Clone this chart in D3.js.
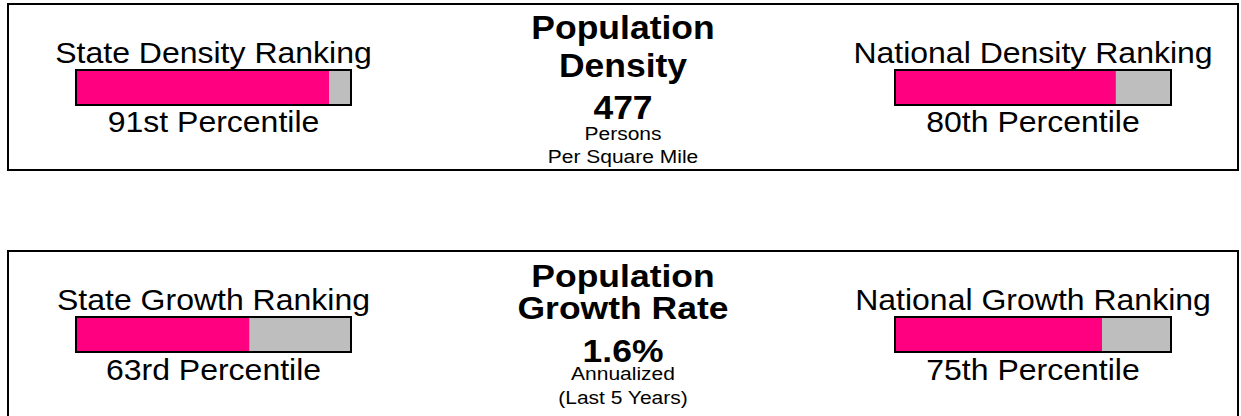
<!DOCTYPE html>
<html>
<head>
<meta charset="utf-8">
<script src="https://cdn.jsdelivr.net/npm/d3@7"></script>
<style>
  body { margin: 0; background: #fff; }
  text { font-family: "Liberation Sans", Arial, Helvetica, sans-serif; fill: #000; }
</style>
</head>
<body>
<div id="chart"></div>
<script>
// data
const titles = [['Population', 'Density'], ['Population', 'Growth Rate']];
const values = ['477', '1.6%'];
const subtitles = [['Persons', 'Per Square Mile'], ['Annualized', '(Last 5 Years)']];
const stateLabels = ['State Density Ranking', 'State Growth Ranking'];
const nationalLabels = ['National Density Ranking', 'National Growth Ranking'];
const statePct = [92, 63];
const nationalPct = [80, 75];
const statePctLabels = ['91st Percentile', '63rd Percentile'];
const nationalPctLabels = ['80th Percentile', '75th Percentile'];

const width = 1241;
const height = 416;

// layout per panel (pixel positions)
const panelTop = [4, 251];
const panelH = [166, 200];
const titleY = [[38.5, 77], [286.5, 318.5]];
const valueY = [118.5, 362];
const subY = [[140, 162.7], [380, 404]];
const labelY = [63.3, 310];
const barY = [70, 317];
const pctY = [131.7, 380];
// vertical squash of glyphs seen in the reference
const boldSy = [0.92, 0.86];
const smallSy = [0.86, 0.88];
const labelSy = 0.95;

const svg = d3.select('#chart')
  .append('svg')
  .attr('width', width)
  .attr('height', height);

const pink = '#ff0080';
const grey = '#bebebe';
const barH = 35;

// bar scales: 0..100 percentile
const xState = d3.scaleLinear().domain([0, 100]).range([76, 351]);
const xNat = d3.scaleLinear().domain([0, 100]).range([895, 1171]);
const cxState = (xState.range()[0] + xState.range()[1]) / 2;
const cxNat = (xNat.range()[0] + xNat.range()[1]) / 2;
const cx = 623;

function label(g, x, y, str, size, bold, sy) {
  g.append('text')
    .attr('transform', `translate(${x},${y}) scale(1,${sy})`)
    .attr('text-anchor', 'middle')
    .style('font-size', size + 'px')
    .style('font-weight', bold ? 'bold' : 'normal')
    .text(str);
}

function drawBar(g, x, pct, y) {
  g.append('rect')
    .attr('x', x(0)).attr('y', y)
    .attr('width', x(100) - x(0)).attr('height', barH)
    .attr('fill', grey);
  g.append('rect')
    .attr('x', x(0)).attr('y', y)
    .attr('width', x(pct) - x(0)).attr('height', barH)
    .attr('fill', pink);
  g.append('rect')
    .attr('x', x(0)).attr('y', y)
    .attr('width', x(100) - x(0)).attr('height', barH)
    .attr('fill', 'none')
    .attr('stroke', '#000')
    .attr('stroke-width', 2);
}

titles.forEach((t, i) => {
  const g = svg.append('g');

  // frame
  g.append('rect')
    .attr('x', 8).attr('y', panelTop[i])
    .attr('width', 1230).attr('height', panelH[i])
    .attr('fill', 'none')
    .attr('stroke', '#000')
    .attr('stroke-width', 2);

  // centre block
  t.forEach((line, j) => label(g, cx, titleY[i][j], line, 35.5, true, boldSy[i]));
  label(g, cx, valueY[i], values[i], 35.5, true, boldSy[i]);
  subtitles[i].forEach((line, j) => label(g, cx, subY[i][j], line, 21, false, smallSy[i]));

  // state side
  label(g, cxState, labelY[i], stateLabels[i], 32, false, labelSy);
  drawBar(g, xState, statePct[i], barY[i]);
  label(g, cxState, pctY[i], statePctLabels[i], 32, false, labelSy);

  // national side
  label(g, cxNat, labelY[i], nationalLabels[i], 32, false, labelSy);
  drawBar(g, xNat, nationalPct[i], barY[i]);
  label(g, cxNat, pctY[i], nationalPctLabels[i], 32, false, labelSy);
});
</script>
</body>
</html>
